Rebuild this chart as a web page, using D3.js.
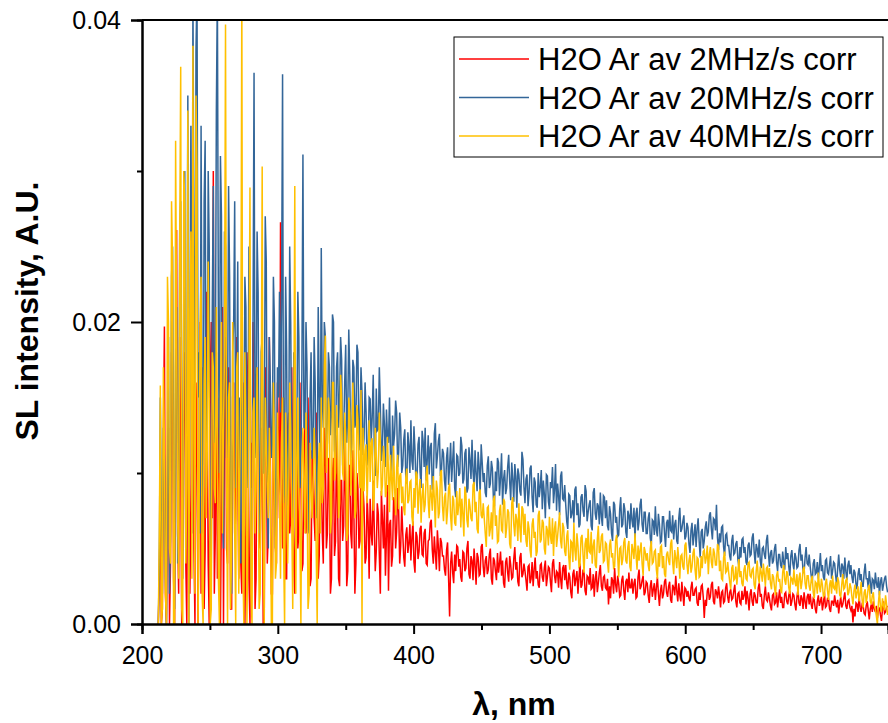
<!DOCTYPE html>
<html>
<head>
<meta charset="utf-8">
<script src="https://cdn.jsdelivr.net/npm/d3@7"></script>
<style>
  html, body { margin: 0; padding: 0; background: #fff; }
  svg { display: block; font-family: Arial, "Liberation Sans", sans-serif; }
</style>
</head>
<body>
<div id="chart"></div>
<script>
// wavelength grid: 212 .. 749 nm, one sample every 0.75 nm
const wavelengths = d3.range(212, 749.5, 0.75);

// SL intensity in units of 1e-4 A.U.
const red2MHz = [
  0,30,80,0,10,120,197,20,0,90,130,0,40,180,160,30,0,140,261,60,20,190,110,0,60,150,180,40,0,210,140,20,70,170,230,50,0,160,120,0,
  90,200,20,130,170,10,50,220,140,40,0,160,200,70,300,20,60,180,30,110,150,0,80,210,0,140,190,50,40,170,120,10,10,150,160,60,70,190,100,30,
  130,40,20,160,110,0,60,180,150,30,0,120,90,200,120,10,30,150,170,60,50,130,100,0,0,170,140,40,60,190,110,20,20,140,90,50,40,160,120,70,
  266,90,50,150,110,30,30,130,140,60,70,170,90,40,20,110,120,50,60,160,100,35,40,120,130,60,75,150,95,25,30,115,110,70,55,140,85,30,45,125,
  100,60,40,130,120,50,60,110,90,20,30,100,110,45,55,125,80,30,25,95,95,55,65,120,85,25,35,105,105,60,50,115,75,20,40,100,90,50,55,110,
  55,90,77,40,44,85,68,30,83,60,52,95,65,35,48,80,73,45,20,88,70,50,79,32,58,92,22,66,69,38,45,84,82,50,61,90,75,40,52,78,
  60,44,38,59,64,47,53,66,42,57,68,41,34,61,58,43,48,63,65,46,45,60,63,40,39,55,56,67,69,49,40,58,47,36,62,51,35,57,54,45,
  45,36,32,49,54,30,5,40,48,34,27,46,35,52,51,38,43,31,28,48,47,35,37,50,55,33,30,45,42,29,50,39,26,47,44,32,33,51,53,38,
  31,42,45,33,36,46,50,30,26,44,42,35,29,47,34,40,48,32,42,27,24,41,44,34,28,45,39,30,31,43,51,36,41,28,25,44,47,31,33,40,
  35,29,22,38,39,27,30,41,25,36,44,30,35,26,24,39,40,31,28,37,42,25,31,38,37,28,21,40,43,32,27,35,34,24,41,30,23,37,39,29,
  39,27,23,34,31,21,17,33,36,25,30,35,20,31,40,24,26,36,34,22,19,32,31,26,37,23,24,33,18,30,35,21,27,34,39,25,22,31,32,24,
  23,30,13,25,17,31,29,20,37,26,21,32,27,18,19,29,32,22,16,28,30,21,34,24,24,30,20,27,30,17,18,31,36,23,25,29,32,19,21,28,
  27,19,14,25,29,18,23,27,16,24,31,20,12,22,26,17,20,28,30,21,18,25,28,16,14,26,24,19,32,22,15,27,19,15,28,20,12,24,23,18,
  22,17,15,24,28,19,19,23,24,14,12,21,16,25,26,18,4,16,12,22,24,16,18,26,28,15,13,23,21,17,25,19,11,21,22,14,15,24,27,18,
  14,21,23,16,17,22,26,15,11,20,21,14,13,22,16,19,25,13,22,17,9,20,23,15,12,21,19,14,14,24,27,18,20,12,10,19,25,16,15,21,
  17,12,9,19,20,13,14,21,11,17,23,14,18,11,11,20,21,15,13,19,22,12,15,20,19,13,9,18,23,14,12,19,17,10,21,15,10,18,20,13,
  20,13,10,17,16,10,7,15,19,12,15,18,9,14,21,11,12,17,17,10,8,15,15,12,19,14,11,16,7,13,18,11,13,17,21,12,10,15,16,11,
  9,12,1,10,5,14,13,8,19,11,8,13,12,7,6,12,15,9,3,10,13,8,15,10,8,12,4,9,11,6,2,10,15,7,8,11,12
];
const blue20MHz = [
  0,40,150,70,20,130,110,30,0,90,190,20,60,230,250,100,10,170,210,40,80,260,280,140,30,220,300,50,120,350,0,180,330,60,420,250,90,380,420,150,
  180,60,330,150,60,280,320,90,140,300,250,30,40,210,290,120,160,340,420,200,100,310,270,80,50,260,250,110,130,290,230,70,20,180,200,280,90,150,240,60,
  150,40,260,130,60,230,210,90,120,250,180,30,40,200,365,110,130,260,220,60,70,180,190,100,100,270,240,80,50,190,160,110,120,230,200,50,80,170,150,220,
  140,210,364,80,90,230,180,60,110,250,200,100,70,180,160,50,120,220,190,90,100,170,311,130,130,200,170,70,60,150,180,110,110,190,160,70,90,210,150,100,
  249,150,130,200,190,110,120,180,170,125,140,205,200,115,110,170,180,130,150,190,175,105,125,160,185,120,140,195,165,110,120,175,170,130,135,185,180,115,130,170,
  153,112,123,160,140,105,113,150,149,120,137,165,119,98,156,128,129,170,144,108,116,146,132,104,142,124,120,150,110,98,138,118,126,148,140,104,114,140,130,100,
  105,122,129,96,93,127,118,100,135,108,102,131,115,92,97,119,124,101,90,128,121,104,130,95,108,125,99,117,120,89,94,126,133,103,111,121,126,98,102,116,
  113,95,88,110,117,92,105,120,94,108,121,90,84,112,111,98,100,124,118,93,96,113,116,87,90,117,108,96,122,101,91,115,99,88,114,104,86,119,107,94,
  100,87,84,105,111,90,93,108,103,83,78,101,88,110,107,85,97,113,79,96,102,86,90,104,112,94,82,107,96,81,106,98,77,103,99,88,85,114,109,91,
  80,96,99,78,87,103,105,84,74,97,94,79,77,100,84,91,102,76,95,86,70,99,98,81,76,94,90,104,80,89,106,75,93,85,72,98,101,83,82,92,
  79,68,63,86,85,70,73,82,67,89,91,72,80,64,66,84,86,75,71,92,88,68,74,79,82,65,62,87,90,73,69,80,78,66,87,71,65,85,84,70,
  82,65,62,78,73,60,55,81,79,67,71,58,59,76,84,64,66,80,76,61,57,75,72,63,80,69,64,77,56,73,77,62,68,79,83,66,61,74,74,60,
  60,70,74,57,52,69,68,59,78,62,58,73,66,54,55,71,71,60,51,67,69,57,75,62,61,72,56,66,69,55,53,70,77,61,63,68,72,56,58,67,
  64,53,47,62,67,52,59,66,51,63,70,55,44,61,63,50,55,64,68,58,61,72,74,63,56,70,69,62,79,57,49,60,54,64,65,51,45,59,60,52,
  52,45,42,55,59,46,47,53,55,43,38,51,44,56,57,47,51,41,39,52,54,45,46,57,60,48,40,53,50,44,56,42,37,50,51,46,43,55,59,47,
  38,47,49,40,42,50,53,41,35,46,46,39,37,48,41,36,51,43,47,38,32,45,49,40,36,47,44,37,38,49,53,42,46,35,34,44,51,40,39,46,
  38,32,27,40,43,33,34,41,30,38,47,35,39,31,29,42,43,34,33,39,45,30,35,41,40,32,26,37,46,36,31,40,38,30,44,35,29,39,42,33,
  39,31,27,36,34,26,23,33,37,29,33,25,25,34,40,30,30,24,35,28,20,30,29,23,34,27,24,31,19,28,31,22,26,30,32,25,21
];
const yellow40MHz = [
  0,60,158,0,10,170,120,20,0,230,200,50,40,280,240,0,0,320,190,70,30,250,369,10,0,300,280,40,90,340,0,200,260,30,383,120,20,350,300,0,
  60,200,230,20,0,160,190,70,110,240,150,0,10,180,170,90,80,210,120,30,0,150,200,60,130,180,397,100,0,150,160,10,50,200,120,60,0,170,180,20,
  100,150,420,40,0,180,130,0,60,160,289,20,0,140,150,60,90,170,110,10,20,130,303,50,0,150,120,90,70,130,100,0,0,160,120,30,40,140,100,80,
  30,120,150,50,0,140,110,40,80,160,130,70,10,120,290,20,100,150,90,60,0,110,130,90,60,140,100,10,20,120,90,70,90,130,110,50,0,100,120,60,
  150,80,90,170,191,100,110,150,140,60,70,160,160,95,100,145,130,70,80,165,150,100,95,140,125,55,60,150,140,85,105,160,120,70,75,145,135,100,90,155,
  0,130,88,115,119,80,106,135,94,120,123,75,84,130,112,90,101,140,120,85,92,118,110,84,88,124,100,74,112,96,82,118,90,72,104,112,76,98,100,80,
  91,76,72,97,103,80,82,94,95,71,65,90,77,101,99,73,88,96,67,84,93,74,79,98,105,81,70,92,86,75,98,83,64,95,89,70,74,100,102,78,
  68,84,87,66,75,90,93,71,62,85,82,67,65,88,72,79,90,64,83,73,58,91,86,69,64,83,78,70,68,92,94,74,81,63,60,87,89,72,70,80,
  70,60,51,77,78,58,63,74,56,82,85,65,72,54,55,75,79,62,61,83,81,57,64,76,74,53,50,80,84,66,58,73,69,55,80,64,54,78,76,59,
  73,55,51,68,63,49,44,66,70,57,61,45,48,72,75,54,56,69,67,50,46,65,62,52,71,58,53,70,45,63,68,51,58,66,74,55,50,67,64,48,
  45,58,62,44,36,55,54,41,67,49,42,60,52,38,39,57,59,46,34,53,57,43,63,48,47,61,40,52,56,39,37,56,65,47,49,58,60,41,42,54,
  53,41,34,52,56,44,47,37,38,55,59,45,31,50,51,39,43,54,57,42,40,51,55,38,35,53,49,43,60,46,36,52,42,49,54,40,32,51,48,42,
  47,39,35,50,55,40,41,48,49,36,30,47,38,51,52,37,45,33,31,46,48,42,39,53,56,41,33,49,44,37,51,43,30,45,46,38,36,52,54,40,
  33,42,46,34,38,47,50,36,29,44,43,31,32,45,37,48,49,40,44,52,33,46,51,41,37,50,47,39,39,53,51,35,42,30,29,44,48,34,35,41,
  34,28,23,37,39,29,30,38,26,34,43,31,35,27,25,36,39,30,29,40,41,32,31,36,37,26,23,35,42,31,27,38,34,28,40,33,25,37,38,29,
  37,27,23,33,31,24,19,32,35,28,30,22,21,34,39,29,26,35,33,24,20,31,30,26,36,28,25,33,19,30,34,23,28,36,38,27,23,32,32,25,
  22,29,32,21,17,28,27,20,34,25,21,30,26,18,19,27,30,22,16,26,29,20,32,24,23,28,20,31,28,19,18,26,33,23,24,29,30,19,21,27,
  24,18,13,22,26,17,21,25,15,20,28,16,11,21,23,14,18,24,26,15,13,19,21,12,10,5,0,14,22,11,8,17,12,9,19,13,6
];

const seriesNames = ["H2O Ar av 2MHz/s corr", "H2O Ar av 20MHz/s corr", "H2O Ar av 40MHz/s corr"];
const seriesColors = ["#ff0000", "#336699", "#ffc000"];
const seriesValues = [red2MHz, blue20MHz, yellow40MHz];

const xTicks = [200, 300, 400, 500, 600, 700];
const xMinor = [250, 350, 450, 550, 650];
const yTicks = [0, 0.02, 0.04];
const yMinor = [0.01, 0.03];

const width = 888, height = 723;
const margin = { top: 20, right: 0, bottom: 99, left: 142 };

const svg = d3.select("#chart").append("svg")
    .attr("width", width)
    .attr("height", height);

const x = d3.scaleLinear().domain([200, 749.3]).range([margin.left, width - margin.right]);
const y = d3.scaleLinear().domain([0, 0.04]).range([height - margin.bottom, margin.top]);

svg.append("clipPath").attr("id", "plotClip")
  .append("rect")
    .attr("x", margin.left).attr("y", margin.top)
    .attr("width", width - margin.left - margin.right)
    .attr("height", height - margin.top - margin.bottom);

// 曲线
const line = d3.line()
    .x((d, i) => x(wavelengths[i]))
    .y(d => y(d * 1e-4));

const plot = svg.append("g").attr("clip-path", "url(#plotClip)");
seriesValues.forEach((vals, k) => {
  plot.append("path")
      .datum(vals)
      .attr("fill", "none")
      .attr("stroke", seriesColors[k])
      .attr("stroke-width", 1.5)
      .attr("d", line);
});

// 坐标轴
svg.append("g")
    .attr("transform", `translate(0,${y(0)})`)
    .call(d3.axisBottom(x).tickValues(xTicks).tickSize(10).tickPadding(12).tickFormat(d3.format("d")));
svg.append("g")
    .attr("transform", `translate(0,${y(0)})`)
    .call(d3.axisBottom(x).tickValues(xMinor).tickSize(6).tickFormat(""));

svg.append("g")
    .attr("transform", `translate(${x(200)},0)`)
    .call(d3.axisLeft(y).tickValues(yTicks).tickSize(11).tickPadding(10).tickFormat(d3.format(".2f")));
svg.append("g")
    .attr("transform", `translate(${x(200)},0)`)
    .call(d3.axisLeft(y).tickValues(yMinor).tickSize(5).tickFormat(""));

svg.selectAll(".domain").attr("stroke", "#000").attr("stroke-width", 2);
svg.selectAll(".tick line").attr("stroke", "#000").attr("stroke-width", 2);
svg.selectAll(".tick text").attr("font-size", 25).attr("font-family", "Arial, 'Liberation Sans', sans-serif").attr("fill", "#000");

// top frame line
svg.append("line")
    .attr("x1", x(200)).attr("x2", width)
    .attr("y1", y(0.04)).attr("y2", y(0.04))
    .attr("stroke", "#000").attr("stroke-width", 2);

// axis titles
svg.append("text")
    .attr("x", 514).attr("y", 715)
    .attr("text-anchor", "middle")
    .attr("font-size", 32).attr("font-weight", "bold")
    .text("λ, nm");

svg.append("text")
    .attr("transform", "translate(38,311) rotate(-90)")
    .attr("text-anchor", "middle")
    .attr("font-size", 32).attr("font-weight", "bold")
    .text("SL intensity, A.U.");

// legend
const legend = svg.append("g").attr("transform", "translate(454,37)");
legend.append("rect")
    .attr("width", 429).attr("height", 120)
    .attr("fill", "#fff").attr("stroke", "#000").attr("stroke-width", 1);
seriesNames.forEach((name, k) => {
  const cy = 22 + k * 38.5;
  legend.append("line")
      .attr("x1", 5).attr("x2", 75).attr("y1", cy).attr("y2", cy)
      .attr("stroke", seriesColors[k]).attr("stroke-width", 1.5);
  legend.append("text")
      .attr("x", 84).attr("y", cy)
      .attr("dy", "0.36em")
      .attr("font-size", 31)
      .text(name);
});
</script>
</body>
</html>
